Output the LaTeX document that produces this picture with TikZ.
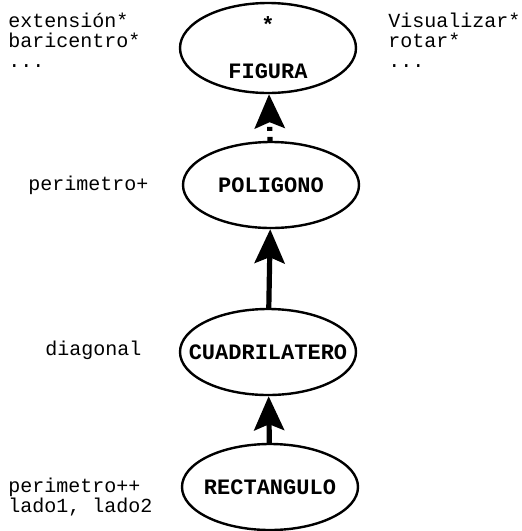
\documentclass[tikz,border=0pt]{standalone}
\usepackage{fontspec}
\setmainfont{Liberation Mono}
\usetikzlibrary{arrows.meta, shapes.geometric}

\begin{document}
\begin{tikzpicture}[x=0.5pt, y=-0.5pt,
      cls/.style={draw, ellipse, line width=1.2pt, fill=white, minimum width=88pt, minimum height=43pt, inner sep=0pt, align=center, font=\fontsize{11}{23}\selectfont\bfseries},
      txt/.style={anchor=west, align=left, inner sep=0pt, font=\fontsize{10}{10}\selectfont},
      up/.style={line width=2.6pt, -{Stealth[length=17pt, width=15pt, inset=3pt]}}
    ]
    \useasboundingbox (0,0) rectangle (522,531);

    % class hierarchy
    \node[cls, minimum height=45pt] (fig) at (268, 48) {\makebox[50pt]{*}\\\makebox[50pt]{FIGURA}};
    \node[cls] (pol) at (271, 185) {\makebox[50pt]{POLIGONO}};
    \node[cls] (cua) at (268, 352) {\makebox[50pt]{CUADRILATERO}};
    \node[cls] (rec) at (270, 487) {\makebox[50pt]{RECTANGULO}};

    \draw[up, dash pattern=on 2pt off 3pt] (pol) -- (fig);
    \draw[up] (cua) -- (pol);
    \draw[up] (rec) -- (cua);

    % members of each class
    \node[txt] (fl) at (8, 40) {extensión*\\baricentro*\\...};
    \node[txt] (fr) at (388, 40) {Visualizar*\\rotar*\\...};
    \node[txt] (pl) at (28, 185) {perimetro+};
    \node[txt] (cl) at (45, 350) {diagonal};
    \node[txt] (rl) at (8, 497) {perimetro++\\lado1, lado2};
\end{tikzpicture}
\end{document}
